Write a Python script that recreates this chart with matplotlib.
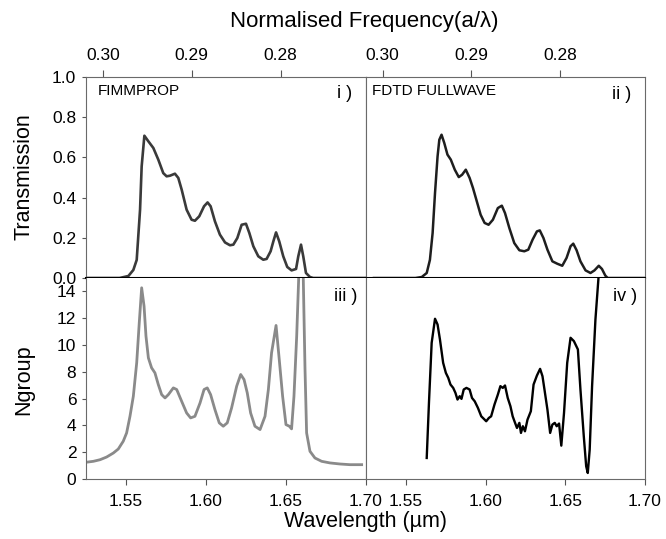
import numpy as np
import matplotlib.pyplot as plt

plt.rcParams['font.family'] = ['Liberation Sans', 'DejaVu Sans']

# (i) FIMMPROP transmission
fimm_wl = [1.525, 1.546, 1.5515, 1.5546, 1.5567, 1.5588, 1.5598, 1.5615, 1.564, 1.5671,
           1.5702, 1.5733, 1.5754, 1.5775, 1.5806, 1.5827, 1.5848, 1.5879, 1.591, 1.5931,
           1.5958, 1.5988, 1.601, 1.6029, 1.6056, 1.6087, 1.6119, 1.615, 1.6171, 1.6196,
           1.6223, 1.625, 1.6271, 1.6296, 1.6327, 1.6358, 1.6379, 1.6404, 1.6421, 1.6438,
           1.6458, 1.6483, 1.6508, 1.6535, 1.6563, 1.6577, 1.6594, 1.6608, 1.6625, 1.665,
           1.667, 1.70]
fimm_trans = [0.0, 0.0, 0.01, 0.04, 0.09, 0.34, 0.555, 0.708, 0.68, 0.647,
              0.589, 0.522, 0.506, 0.509, 0.519, 0.498, 0.44, 0.34, 0.29, 0.285,
              0.307, 0.357, 0.376, 0.357, 0.282, 0.216, 0.177, 0.163, 0.166, 0.199,
              0.265, 0.27, 0.224, 0.158, 0.108, 0.091, 0.095, 0.133, 0.182, 0.227,
              0.182, 0.108, 0.055, 0.038, 0.045, 0.108, 0.166, 0.108, 0.025, 0.005,
              0.0, 0.0]

# (ii) FDTD transmission
fdtd_wl = [1.53, 1.556, 1.56, 1.5631, 1.5651, 1.5668, 1.5683, 1.5699, 1.571, 1.5724,
           1.5741, 1.5761, 1.5782, 1.5807, 1.5832, 1.5853, 1.5876, 1.59, 1.5921, 1.5942,
           1.5969, 1.5994, 1.6019, 1.6046, 1.6077, 1.6102, 1.6122, 1.6149, 1.618, 1.6212,
           1.6243, 1.6268, 1.6295, 1.6322, 1.634, 1.6363, 1.6388, 1.6419, 1.645, 1.6481,
           1.6508, 1.6533, 1.655, 1.6571, 1.6595, 1.6627, 1.6658, 1.6683, 1.671, 1.673,
           1.6751, 1.6766, 1.70]
fdtd_trans = [0.0, 0.0, 0.005, 0.025, 0.09, 0.224, 0.423, 0.605, 0.688, 0.713,
              0.672, 0.614, 0.589, 0.539, 0.502, 0.514, 0.539, 0.498, 0.448, 0.39,
              0.315, 0.274, 0.265, 0.29, 0.348, 0.36, 0.323, 0.249, 0.174, 0.138,
              0.133, 0.141, 0.191, 0.232, 0.237, 0.199, 0.141, 0.083, 0.071, 0.061,
              0.1, 0.158, 0.171, 0.138, 0.083, 0.038, 0.025, 0.038, 0.061, 0.045,
              0.012, 0.0, 0.0]

# (iii) FIMMPROP group index
fimm_ng_wl = [1.525, 1.5296, 1.5338, 1.5379, 1.5421, 1.5452, 1.5483, 1.5504, 1.5525, 1.5546,
              1.5567, 1.5583, 1.5598, 1.5613, 1.5625, 1.564, 1.566, 1.5681, 1.5702, 1.5723,
              1.5744, 1.5765, 1.5796, 1.5817, 1.5848, 1.5879, 1.5904, 1.5931, 1.5963, 1.5988,
              1.6008, 1.6029, 1.6056, 1.6083, 1.6108, 1.6133, 1.616, 1.6192, 1.6217, 1.6238,
              1.6258, 1.6279, 1.6306, 1.6338, 1.6369, 1.639, 1.641, 1.6438, 1.6458, 1.6479,
              1.65, 1.6521, 1.6535, 1.655, 1.6567, 1.6581, 1.6594, 1.6608, 1.6619, 1.6629,
              1.665, 1.6681, 1.6723, 1.6775, 1.6838, 1.69, 1.6973]
fimm_ng = [1.25, 1.32, 1.44, 1.64, 1.94, 2.24, 2.82, 3.44, 4.68, 6.18,
           8.67, 11.66, 14.27, 12.9, 10.66, 9.04, 8.3, 7.92, 7.05, 6.3,
           6.05, 6.3, 6.8, 6.68, 5.8, 4.93, 4.56, 4.68, 5.68, 6.68,
           6.8, 6.3, 5.18, 4.19, 3.94, 4.19, 5.3, 6.93, 7.8, 7.42,
           6.43, 4.93, 3.94, 3.69, 4.68, 6.68, 9.42, 11.46, 8.92, 6.18,
           4.06, 3.94, 3.74, 6.18, 10.66, 15.5, 17.0, 15.1, 8.2, 3.44,
           2.07, 1.57, 1.32, 1.2, 1.12, 1.07, 1.07]

# (iv) FDTD group index
fdtd_ng_wl = [1.5631, 1.5645, 1.5662, 1.5683, 1.5699, 1.5714, 1.5734, 1.5751, 1.5766, 1.578,
              1.5797, 1.5811, 1.5824, 1.5838, 1.5849, 1.5863, 1.588, 1.59, 1.5915, 1.5932,
              1.5952, 1.5973, 1.599, 1.6004, 1.6021, 1.6035, 1.6056, 1.6077, 1.6093, 1.6108,
              1.6122, 1.6139, 1.6156, 1.617, 1.6185, 1.6197, 1.6212, 1.6222, 1.6234, 1.6247,
              1.6263, 1.6284, 1.6301, 1.6322, 1.6342, 1.6357, 1.6371, 1.6388, 1.6405, 1.6419,
              1.6434, 1.6446, 1.6461, 1.6475, 1.6492, 1.6512, 1.6533, 1.6554, 1.6579, 1.6595,
              1.6616, 1.6631, 1.6641, 1.6653, 1.6668, 1.6689, 1.6709, 1.672]
fdtd_ng = [1.57, 5.68, 10.16, 11.96, 11.53, 10.41, 8.67, 7.92, 7.55, 7.05,
           6.8, 6.43, 5.93, 6.18, 5.98, 6.68, 6.8, 6.68, 6.05, 5.8,
           5.31, 4.68, 4.48, 4.31, 4.56, 4.68, 5.56, 6.3, 6.93, 6.8,
           6.98, 6.05, 5.43, 4.68, 4.19, 3.81, 4.19, 3.44, 3.94, 3.56,
           4.43, 5.06, 7.05, 7.72, 8.22, 7.67, 6.55, 5.18, 3.44, 4.06,
           4.19, 3.94, 4.14, 2.49, 4.93, 8.67, 10.54, 10.29, 9.67, 6.68,
           3.19, 0.95, 0.45, 2.19, 6.93, 11.9, 15.15, 17.0]

wl_ticks = [1.55, 1.60, 1.65, 1.70]
freq_ticks = [0.30, 0.29, 0.28]
t_ticks = [0.0, 0.2, 0.4, 0.6, 0.8, 1.0]
ng_ticks = [0, 2, 4, 6, 8, 10, 12, 14]


# linear mapping wavelength -> normalised frequency as on the original top axis
def to_freq(w):
    return 0.30 - 0.18 * (np.asarray(w) - 1.5355)


def to_wl(f):
    return 1.5355 + (0.30 - np.asarray(f)) / 0.18


fig = plt.figure(figsize=(6.66, 5.39), dpi=100)
x0, xm, x1 = 0.1291, 0.5495, 0.9685
y0, ym, y1 = 0.1113, 0.4842, 0.8571

ax1 = fig.add_axes([x0, ym, xm - x0, y1 - ym])
ax2 = fig.add_axes([xm, ym, x1 - xm, y1 - ym])
ax3 = fig.add_axes([x0, y0, xm - x0, ym - y0])
ax4 = fig.add_axes([xm, y0, x1 - xm, ym - y0])

ax1.plot(fimm_wl, fimm_trans, color='#3a3a3a', lw=1.9)
ax2.plot(fdtd_wl, fdtd_trans, color='#1e1e1e', lw=1.8)
ax3.plot(fimm_ng_wl, fimm_ng, color='#8a8a8a', lw=2.0)
ax4.plot(fdtd_ng_wl, fdtd_ng, color='#000000', lw=1.7)

for ax in (ax1, ax2, ax3, ax4):
    ax.set_xlim(1.525, 1.70)
    for s in ax.spines.values():
        s.set_color('#6a6a6a')
        s.set_linewidth(0.8)
    ax.tick_params(colors='#555555', labelcolor='black', labelsize=12.5, width=0.8)

for ax in (ax1, ax2):
    ax.set_ylim(0, 1.0)
    ax.set_xticks([])
    ax.spines['bottom'].set_color('black')
    ax.spines['bottom'].set_linewidth(1.5)
    sec = ax.secondary_xaxis('top', functions=(to_freq, to_wl))
    sec.set_xticks(freq_ticks)
    sec.set_xticklabels(['%.2f' % f for f in freq_ticks])
    sec.tick_params(direction='out', length=5, width=0.8, colors='#555555',
                    labelcolor='black', labelsize=12.5, pad=5)
    sec.spines['top'].set_visible(False)

for ax in (ax3, ax4):
    ax.set_ylim(0, 15)
    ax.spines['top'].set_visible(False)
    ax.set_xticks(wl_ticks)
    ax.set_xticklabels(['%.2f' % w for w in wl_ticks])
    ax.tick_params(axis='x', direction='out', length=4, pad=7)

ax1.set_yticks(t_ticks)
ax1.set_yticklabels(['%.1f' % t for t in t_ticks])
ax1.tick_params(axis='y', direction='out', length=3, pad=4)
ax3.set_yticks(ng_ticks)
ax3.tick_params(axis='y', direction='out', length=3, pad=4)
ax2.set_yticks([])
ax4.set_yticks([])

ax1.text(0.043, 0.93, 'FIMMPROP', transform=ax1.transAxes, fontsize=11, va='center')
ax1.text(0.95, 0.92, 'i )', transform=ax1.transAxes, fontsize=13, va='center', ha='right')
ax2.text(0.022, 0.93, 'FDTD FULLWAVE', transform=ax2.transAxes, fontsize=11, va='center')
ax2.text(0.952, 0.915, 'ii )', transform=ax2.transAxes, fontsize=13, va='center', ha='right')
ax3.text(0.968, 0.91, 'iii )', transform=ax3.transAxes, fontsize=13, va='center', ha='right')
ax4.text(0.971, 0.91, 'iv )', transform=ax4.transAxes, fontsize=13, va='center', ha='right')

fig.text(24 / 666, 1 - 177 / 539, 'Transmission', rotation=90, fontsize=15.5, ha='center', va='center')
fig.text(24 / 666, 1 - 380 / 539, 'Ngroup', rotation=90, fontsize=15.5, ha='center', va='center')
fig.text(365 / 666, 1 - 522 / 539, 'Wavelength (µm)', fontsize=15.5, ha='center', va='center')
fig.text(364 / 666, 1 - 22 / 539, 'Normalised Frequency(a/λ)', fontsize=16, ha='center', va='center')

fig.savefig('out.png', dpi=100)
